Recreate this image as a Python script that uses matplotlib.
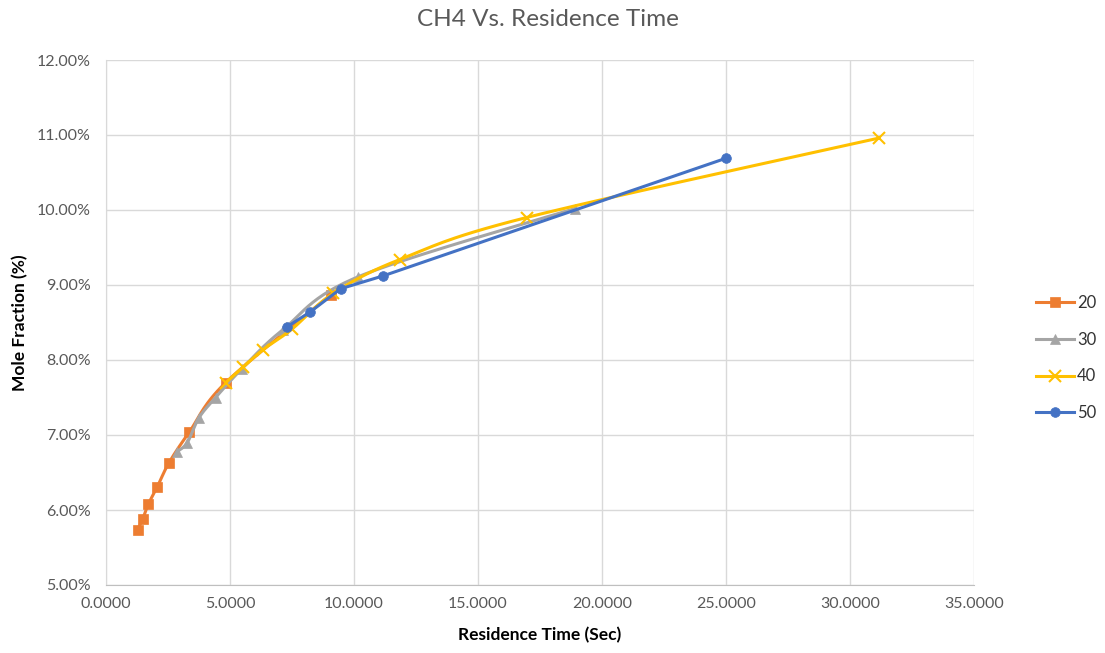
import numpy as np
import matplotlib
matplotlib.use("Agg")
import matplotlib.pyplot as plt
from matplotlib.ticker import FuncFormatter, MultipleLocator

plt.rcParams['font.family'] = ['Lato', 'DejaVu Sans']

# Data (residence time in sec, mole fraction in %)
t20 = [1.28, 1.48, 1.71, 2.07, 2.54, 3.36, 4.83, 9.07]
y20 = [5.74, 5.88, 6.08, 6.31, 6.63, 7.04, 7.70, 8.87]
t30 = [2.88, 3.28, 3.75, 4.42, 5.47, 7.12, 10.17, 18.91]
y30 = [6.78, 6.90, 7.23, 7.50, 7.88, 8.40, 9.11, 10.02]
t40 = [4.83, 5.54, 6.34, 7.49, 9.17, 11.85, 16.96, 31.18]
y40 = [7.70, 7.91, 8.14, 8.41, 8.89, 9.34, 9.90, 10.96]
t50 = [7.29, 8.23, 9.46, 11.16, 25.00]
y50 = [8.44, 8.64, 8.95, 9.12, 10.69]
labels = ['20', '30', '40', '50']
colors = ['#ED7D31', '#A5A5A5', '#FFC000', '#4472C4']
markers = ['s', '^', 'x', 'o']


def smooth(x, y, n=30):
    """Excel-like smoothed line (Catmull-Rom Bezier)."""
    x = np.asarray(x, float); y = np.asarray(y, float)
    P = np.column_stack([x, y])
    out = [P[0]]
    for i in range(len(P) - 1):
        p0 = P[i - 1] if i > 0 else P[i]
        p1 = P[i]; p2 = P[i + 1]
        p3 = P[i + 2] if i + 2 < len(P) else P[i + 1]
        c1 = p1 + (p2 - p0) / 6.0
        c2 = p2 - (p3 - p1) / 6.0
        s = np.linspace(0, 1, n)[1:, None]
        pts = ((1 - s) ** 3) * p1 + 3 * ((1 - s) ** 2) * s * c1 + 3 * (1 - s) * s ** 2 * c2 + s ** 3 * p2
        out.extend(pts)
    out = np.array(out)
    return out[:, 0], out[:, 1]


fig = plt.figure(figsize=(11.05, 6.53), dpi=100)
ax = fig.add_axes([106 / 1105, (653 - 585) / 653, (974 - 106) / 1105, (585 - 60) / 653])

series = [(t20, y20), (t30, y30), (t40, y40), (t50, y50)]
handles = []
for k, ((t, y), c, m, lab) in enumerate(zip(series, colors, markers, labels)):
    if k < 3:
        sx, sy = smooth(t, y)
    else:
        sx, sy = t, y
    ax.plot(sx, sy, color=c, lw=2.2, zorder=3 + k, solid_capstyle='round')
    ms = 8 if m == 'x' else 7
    mew = 1.5 if m == 'x' else 0.5
    ax.plot(t, y, linestyle='none', marker=m, color=c, ms=ms, mew=mew, zorder=3 + k)
    h, = ax.plot([], [], color=c, lw=2.2, marker=m, ms=ms, mew=mew, label=lab)
    handles.append(h)

ax.set_xlim(0, 35)
ax.set_ylim(5, 12)
ax.xaxis.set_major_locator(MultipleLocator(5))
ax.yaxis.set_major_locator(MultipleLocator(1))
ax.xaxis.set_major_formatter(FuncFormatter(lambda v, p: f"{v:.4f}"))
ax.yaxis.set_major_formatter(FuncFormatter(lambda v, p: f"{v:.2f}%"))
ax.grid(True, color='#D9D9D9', lw=1)
ax.set_axisbelow(True)
for s in ['top', 'right']:
    ax.spines[s].set_visible(False)
for s in ['left', 'bottom']:
    ax.spines[s].set_color('#BFBFBF')
ax.spines['left'].set_color('#D9D9D9')
ax.tick_params(axis='y', length=0, labelsize=11.5, colors='#595959', pad=11)
ax.tick_params(axis='x', length=0, labelsize=11.5, colors='#595959', pad=9)

ax.set_xlabel('Residence Time (Sec)', fontsize=12.5, fontweight='bold', color='black', labelpad=11)
ax.set_ylabel('Mole Fraction (%)', fontsize=12.5, fontweight='bold', color='black', labelpad=6)
fig.text(548 / 1105, 1 - 19 / 653, 'CH4 Vs. Residence Time', ha='center', va='center',
         fontsize=17.5, color='#595959')

leg = fig.legend(handles=handles, loc='center left', bbox_to_anchor=(1021 / 1105, 1 - 358 / 653),
                 frameon=False, fontsize=12, labelspacing=1.25, handlelength=2.3, handletextpad=0.15)
for txt in leg.get_texts():
    txt.set_color('#333333')

fig.savefig('out.png', dpi=100)
